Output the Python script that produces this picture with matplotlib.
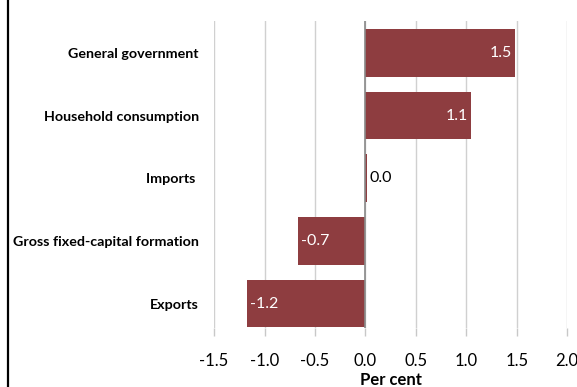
import matplotlib.pyplot as plt
from matplotlib.lines import Line2D

# contributions by expenditure component, per cent
categories = ["Exports", "Gross fixed-capital formation", "Imports ",
              "Household consumption", "General government"]
values = [-1.17, -0.67, 0.02, 1.05, 1.48]
xticks = [-1.5, -1.0, -0.5, 0.0, 0.5, 1.0, 1.5, 2.0]

bar_color = "#8E3D40"
plt.rcParams['font.family'] = ['Lato', 'DejaVu Sans']

fig = plt.figure(figsize=(5.77, 3.87), dpi=100)
ax = fig.add_axes([0.371, 0.1525, 0.612, 0.7932])

pos = list(range(len(categories)))
bars = ax.barh(pos, values, height=0.76, color=bar_color, zorder=3)

ax.set_xlim(-1.5, 2.0)
ax.set_ylim(-0.39, 4.51)
ax.set_xticks(xticks)
ax.set_xticklabels([f"{t:.1f}" for t in xticks], fontsize=12)
ax.set_yticks(pos)
ax.set_yticklabels(categories, fontsize=10.3, fontweight="bold")
ax.tick_params(axis="y", length=0, pad=11)
ax.tick_params(axis="x", length=6, width=1, color="#c8c8c8", pad=12)

ax.grid(axis="x", color="#d0d0d0", linewidth=1, zorder=0)
for s in ax.spines.values():
    s.set_visible(False)
ax.axvline(0, color="#8a8a8a", linewidth=1.2, zorder=4)

ax.set_xlabel("Per cent", fontsize=12, fontweight="bold", labelpad=2)

# value labels: inside the bar end when it fits, otherwise just outside
for b, v in zip(bars, values):
    y = b.get_y() + b.get_height() / 2
    lbl = f"{v:.1f}"
    if abs(v) < 0.3:
        ax.text(v + 0.02, y, lbl, ha="left", va="center", fontsize=11.5,
                color="black", zorder=5)
    elif v > 0:
        ax.text(v - 0.03, y, lbl, ha="right", va="center", fontsize=11.5,
                color="white", zorder=5)
    else:
        ax.text(v + 0.03, y, lbl, ha="left", va="center", fontsize=11.5,
                color="white", zorder=5)

# frame line on the left
fig.add_artist(Line2D([7.5 / 577, 7.5 / 577], [0, 1], color="black",
                      linewidth=1.6, transform=fig.transFigure))

fig.savefig("out.png", dpi=100)
